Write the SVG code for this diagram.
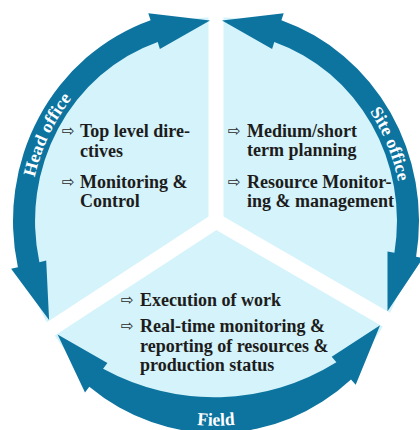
<svg xmlns="http://www.w3.org/2000/svg" width="420" height="430" viewBox="0 0 420 430">
<style>
.ring{fill:#0d74a0}
.disk{fill:#d4f3fa}
.div{stroke:#fff;stroke-width:15;stroke-linecap:butt}
.lbl{font-family:"Liberation Serif","Times New Roman",serif;font-weight:bold;font-size:17.5px;fill:#fff}
.t{font-family:"Liberation Serif","Times New Roman",serif;font-weight:bold;font-size:18px;fill:#1c1c1c}
.b{font-family:"DejaVu Sans",sans-serif;font-size:15px;fill:#2a2a2a}
</style>
<defs>
<path id="pHead" d="M-185.6,13 A186,186 0 0 1 -104,-154.2"/>
<path id="pSite" d="M111.9,-148.5 A186,186 0 0 1 184.6,22.7"/>
<path id="pField" d="M-98,169.7 A196,196 0 0 0 98,169.7"/>
</defs>
<rect width="420" height="430" fill="#fff"/>
<g transform="translate(216,221) scale(1,1.045)">
  <circle r="195" class="disk"/>
  <g id="connectors">
    <line class="div" x1="0" y1="0" x2="0" y2="-215"/>
    <line class="div" x1="0" y1="0" x2="188" y2="104.2"/>
    <line class="div" x1="0" y1="0" x2="-182.3" y2="113.9"/>
  </g>
  <g id="head-office">
    <path class="ring" d="M-166.9,94.8 L-204.9,45.8 L-198.1,44.3 A203,203 0 0 1 -65.4,-192.2 L-67.7,-198.8 L-6,-191.9 L-56.1,-164.7 L-58.3,-171.3 A181,181 0 0 0 -176.6,39.5 L-169.8,37.9 Z"/>
    <text class="lbl"><textPath href="#pHead" startOffset="50%" text-anchor="middle">Head office</textPath></text>
  </g>
  <g id="site-office">
    <path class="ring" d="M6,-191.9 L67.7,-198.8 L65.4,-192.2 A203,203 0 0 1 200.1,34.2 L207,35.4 L171.5,86.3 L171.5,29.3 L178.4,30.5 A181,181 0 0 0 58.3,-171.3 L56.1,-164.7 Z"/>
    <text class="lbl"><textPath href="#pSite" startOffset="50%" text-anchor="middle">Site office</textPath></text>
  </g>
  <g id="field">
    <path class="ring" d="M164.1,99.7 L139.7,156.8 L135,151.6 A203,203 0 0 1 -126.7,158.6 L-131,164.1 L-158.4,108.5 L-108.6,136 L-112.9,141.5 A240,240 0 0 0 120.4,135.1 L115.7,129.9 Z"/>
    <text class="lbl"><textPath href="#pField" startOffset="50%" text-anchor="middle">Field</textPath></text>
  </g>
</g>
<g id="head-office-text">
  <text class="b" x="62" y="136">⇨</text>
  <text class="t" x="80" y="137">Top level dire-</text>
  <text class="t" x="80" y="157">ctives</text>
  <text class="b" x="62" y="187">⇨</text>
  <text class="t" x="80" y="188">Monitoring &amp;</text>
  <text class="t" x="80" y="207">Control</text>
</g>
<g id="site-office-text">
  <text class="b" x="228" y="136">⇨</text>
  <text class="t" x="247" y="137">Medium/short</text>
  <text class="t" x="247" y="156">term planning</text>
  <text class="b" x="228" y="187">⇨</text>
  <text class="t" x="247" y="188">Resource Monitor-</text>
  <text class="t" x="247" y="207">ing &amp; management</text>
</g>
<g id="field-text">
  <text class="b" x="121" y="305">⇨</text>
  <text class="t" x="140" y="306">Execution of work</text>
  <text class="b" x="121" y="331">⇨</text>
  <text class="t" x="140" y="332">Real-time monitoring &amp;</text>
  <text class="t" x="140" y="352">reporting of resources &amp;</text>
  <text class="t" x="140" y="371">production status</text>
</g>
</svg>
